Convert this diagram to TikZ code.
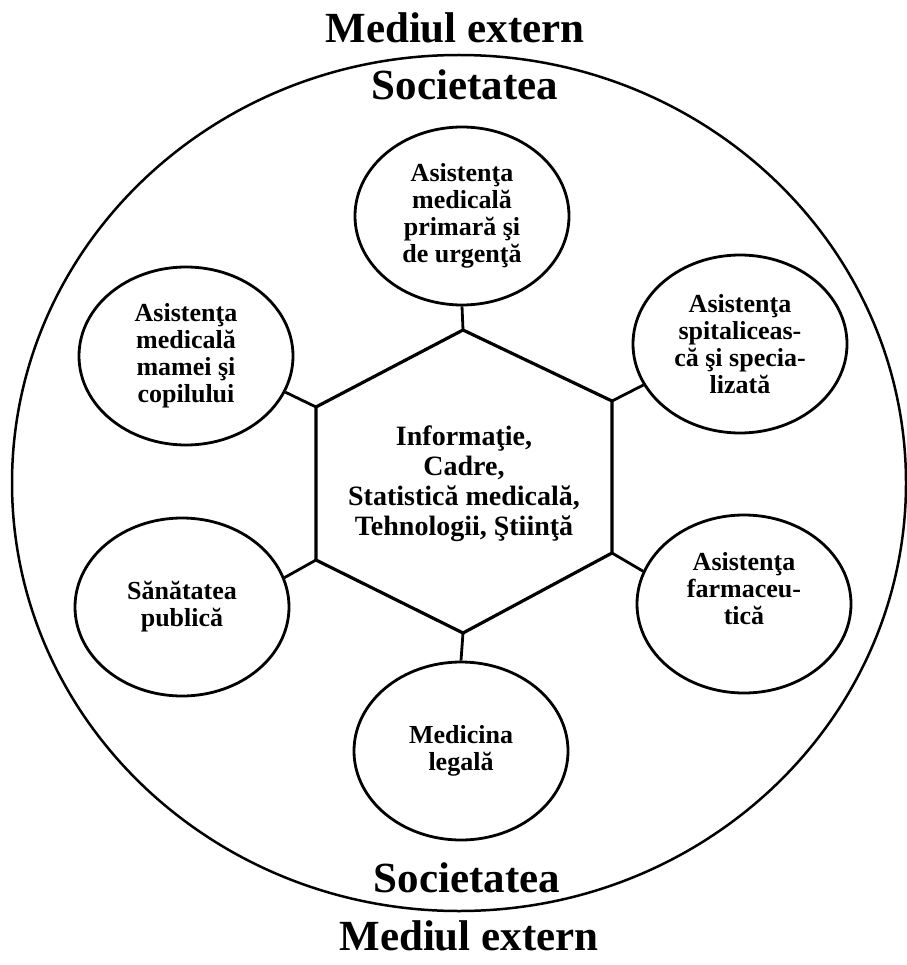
\documentclass[tikz,border=0pt]{standalone}
\usepackage{fontspec}
\setmainfont{Liberation Serif}
\usetikzlibrary{shapes.geometric}
\begin{document}
\begin{tikzpicture}[x=1pt,y=-1pt,
  bubble/.style={ellipse, draw, line width=2.8pt, minimum width=214pt, minimum height=178pt,
    inner sep=0pt, align=center, font=\fontsize{26}{27}\selectfont\bfseries},
  btext/.style={align=center, font=\fontsize{26}{27}\selectfont\bfseries},
  hextext/.style={align=center, font=\fontsize{28}{30}\selectfont\bfseries},
  title/.style={anchor=base, font=\fontsize{43}{45}\selectfont\bfseries},
  link/.style={line width=2.8pt}]
\useasboundingbox (0,0) rectangle (906,965);

% outer society boundary
\draw[line width=2.5pt] (459,483) ellipse [x radius=447, y radius=428];

\node[title] (me1) at (455,43) {Mediul extern};
\node[title] (so1) at (465,100) {Societatea};
\node[title] (so2) at (467,892) {Societatea};
\node[title] (me2) at (469,950) {Mediul extern};

% central hexagon
\coordinate (hT)  at (463,330);
\coordinate (hUR) at (612,401);
\coordinate (hLR) at (612,553);
\coordinate (hB)  at (463,633);
\coordinate (hLL) at (316,560);
\coordinate (hUL) at (316,407);
\draw[line width=3.2pt, line join=miter] (hT) -- (hUR) -- (hLR) -- (hB) -- (hLL) -- (hUL) -- cycle;
\node[hextext] (core) at (464,484) {Informaţie,\\Cadre,\\Statistică medicală,\\Tehnologii, Ştiinţă};

% surrounding services
\node[bubble] (top) at (462,216) {Asistenţa\\medicală\\primară şi\\de urgenţă};
\node[bubble] (ur)  at (740,344) {Asistenţa\\spitaliceas-\\că şi specia-\\lizată};
\node[bubble] (lr)  at (744,604) {};
\node[btext] (lrt) at ([yshift=15pt]lr.center) {Asistenţa\\farmaceu-\\tică};
\node[bubble] (bot) at (461,751) {Medicina\\legală};
\node[bubble] (ll)  at (182,607) {Sănătatea\\publică};
\node[bubble] (ul)  at (186,356) {Asistenţa\\medicală\\mamei şi\\copilului};

% links from hexagon corners
\draw[link] (hT) -- (top.south);
\draw[link] (hUR) -- (ur.203);
\draw[link] (hLR) -- (lr.162);
\draw[link] (hB) -- (bot.north);
\draw[link] (hLL) -- (ll.16);
\draw[link] (hUL) -- (ul.-20);
\end{tikzpicture}
\end{document}
